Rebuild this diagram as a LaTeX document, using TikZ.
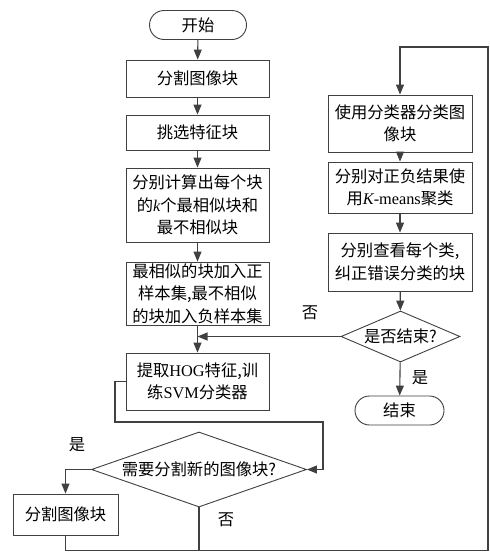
\documentclass[tikz,border=0pt]{standalone}
\usepackage{fontspec}
\setmainfont{Noto Sans CJK SC}
\newfontfamily\lat{Liberation Serif}
\usetikzlibrary{arrows.meta,shapes.geometric}
\definecolor{ln}{HTML}{404040}
\tikzset{
  box/.style={draw=ln,line width=0.9pt,minimum width=143pt,align=center,inner sep=0pt,text=black},
  term/.style={draw=ln,line width=0.9pt,rounded corners=14.5pt,minimum height=29pt,inner sep=0pt},
  dia/.style={draw=ln,line width=0.9pt,diamond,inner sep=0pt},
  arr/.style={draw=ln,line width=1.1pt,-{Triangle[length=10pt,width=8pt]}},
  ln/.style={draw=ln,line width=1.1pt},
  lbl/.style={inner sep=0pt}
}
\begin{document}
\begin{tikzpicture}[x=1pt,y=-1pt,font=\fontsize{16.3}{22.5}\selectfont]
\useasboundingbox[fill=white] (0,0) rectangle (490,552);
% left column
\node[term,minimum width=97pt] (start) at (198,25) {开始};
\node[box,minimum height=37pt] (b1) at (197.5,78.5) {分割图像块};
\node[box,minimum height=35pt] (b2) at (197.5,132.5) {挑选特征块};
\node[box,minimum height=74pt] (b3) at (197.5,205) {分别计算出每个块\\的{\lat\itshape k}个最相似块和\\最不相似块};
\node[box,minimum height=63pt] (b4) at (197.5,293.5) {最相似的块加入正\\样本集,最不相似\\的块加入负样本集};
\node[box,minimum height=57pt] (b5) at (197.5,381.5) {提取{\lat HOG}特征,训\\练{\lat SVM}分类器};
\node[dia,minimum width=215pt,minimum height=75pt] (d1) at (199,469.5) {};
\node[lbl] (d1t) at (d1.center) {需要分割新的图像块?};
\node[box,minimum width=105pt,minimum height=41pt] (sb) at (65.5,514.5) {分割图像块};
% right column
\node[box,minimum width=144pt,minimum height=57pt] (r1) at (400,123.5) {使用分类器分类图\\像块};
\node[box,minimum width=144pt,minimum height=51pt] (r2) at (400,187.5) {分别对正负结果使\\用{\lat\itshape K}{\lat -means}聚类};
\node[box,minimum width=144pt,minimum height=58pt] (r3) at (400,262) {分别查看每个类,\\纠正错误分类的块};
\node[dia,minimum width=119pt,minimum height=51pt] (d2) at (400.5,336.5) {};
\node[lbl] (d2t) at (d2.center) {是否结束?};
\node[term,minimum width=89pt] (end) at (399.5,410.5) {结束};
% labels
\node[lbl] (l1) at (77,445) {是};
\node[lbl] (l2) at (226,520) {否};
\node[lbl] (l3) at (310,313) {否};
\node[lbl] (l4) at (420,378) {是};
% coordinates
\coordinate (c1) at (115,422);
\coordinate (c2) at (323,422);
\coordinate (c3) at (488,550.5);
\coordinate (c4) at (488,47);
% connectors
\draw[arr] (start) -- (b1);
\draw[arr] (b1) -- (b2);
\draw[arr] (b2) -- (b3);
\draw[arr] (b3) -- (b4);
\draw[arr] (b4) -- (b5);
\draw[arr] (d2.west) -- (b5.north |- d2.west);
\draw[arr] (b5.west) -| (c1) -- (c2) |- (d1.east);
\draw[arr] (d1.west) -| (sb.north);
\draw[arr] (sb.south) |- (c3) -- (c4) -| (r1.north);
\draw[ln] (d1.south) -- (d1.south |- c3);
\draw[arr] (r1) -- (r2);
\draw[arr] (r2) -- (r3);
\draw[arr] (r3) -- (d2);
\draw[arr] (d2) -- (end);
\end{tikzpicture}
\end{document}
